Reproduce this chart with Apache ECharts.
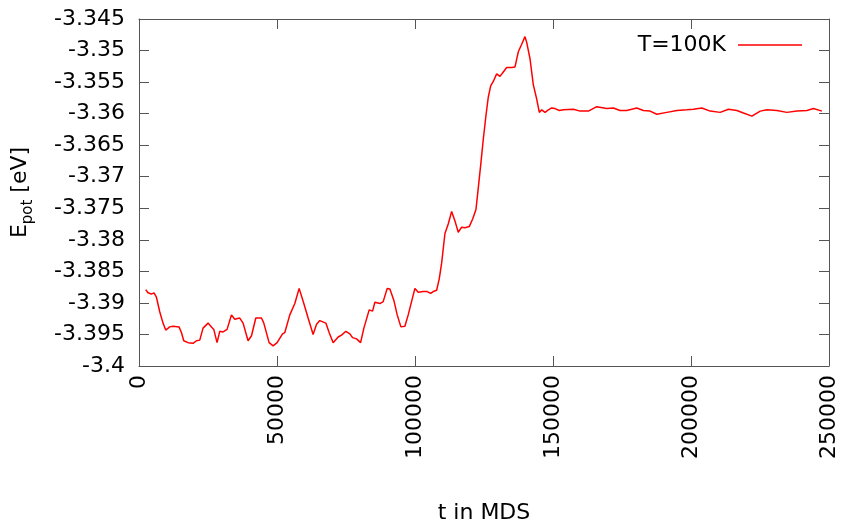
<!DOCTYPE html>
<html>
<head>
<meta charset="utf-8">
<script src="https://cdn.jsdelivr.net/npm/echarts@6/dist/echarts.min.js"></script>
<style>
  html, body { margin: 0; padding: 0; background: #fff; }
  #chart { width: 844px; height: 529px; }
</style>
</head>
<body>
<div id="chart"></div>
<script>
// values
const tSteps = [
  2430, 3260, 4500, 5440, 6310, 7510, 8700, 9680, 11130, 12330,
  14500, 15370, 16210, 17770, 19580, 20810, 22010, 23210, 25020, 26250,
  27090, 28280, 29260, 30460, 31910, 33500, 34700, 36510, 37710, 39520,
  40760, 42320, 44380, 45220, 47140, 48590, 50040, 52000, 52830, 54640,
  56460, 58020, 59720, 61280, 63090, 64320, 65520, 67700, 68890, 70340,
  72160, 73390, 74950, 76400, 77380, 78830, 80280, 81480, 83400, 84630,
  85460, 87280, 88470, 89930, 90900, 92350, 93550, 94890, 96340, 97540,
  99970, 101170, 102980, 104430, 105660, 106600, 107840, 108780, 109650, 110850,
  112040, 113280, 114470, 115670, 116900, 118100, 119660, 120890, 122090, 122920,
  123790, 124730, 125710, 126550, 127420, 128360, 129590, 130790, 131990, 133220,
  135030, 136230, 137430, 138660, 139850, 140470, 141670, 142860, 144100, 145040,
  145910, 147110, 148310, 149540, 150730, 152290, 153740, 157370, 159800, 162810,
  165850, 169480, 171870, 174300, 176730, 180360, 182750, 185180, 187610, 191240,
  194860, 198490, 200880, 203930, 206940, 210560, 213570, 216620, 219010, 222060,
  225070, 227500, 231120, 234750, 238380, 242000, 244390, 247440
]
const ePot = [
  -3.3879, -3.3884, -3.3886, -3.3884, -3.3891, -3.3914, -3.3932, -3.3943, -3.3938, -3.3937,
  -3.3938, -3.3947, -3.3960, -3.3963, -3.3964, -3.3960, -3.3959, -3.3940, -3.3932, -3.3938,
  -3.3942, -3.3963, -3.3945, -3.3946, -3.3942, -3.3919, -3.3926, -3.3924, -3.3932, -3.3960,
  -3.3952, -3.3924, -3.3924, -3.3932, -3.3963, -3.3968, -3.3963, -3.3949, -3.3947, -3.3919,
  -3.3901, -3.3877, -3.3901, -3.3924, -3.3950, -3.3934, -3.3928, -3.3932, -3.3947, -3.3963,
  -3.3954, -3.3951, -3.3945, -3.3949, -3.3955, -3.3957, -3.3963, -3.3940, -3.3911, -3.3913,
  -3.3899, -3.3901, -3.3898, -3.3877, -3.3878, -3.3896, -3.3919, -3.3938, -3.3937, -3.3919,
  -3.3877, -3.3883, -3.3882, -3.3882, -3.3885, -3.3882, -3.3880, -3.3862, -3.3837, -3.3790,
  -3.3775, -3.3755, -3.3770, -3.3788, -3.3780, -3.3781, -3.3779, -3.3767, -3.3752, -3.3718,
  -3.3682, -3.3641, -3.3603, -3.3574, -3.3556, -3.3549, -3.3537, -3.3541, -3.3534, -3.3527,
  -3.3527, -3.3526, -3.3502, -3.3490, -3.3478, -3.3487, -3.3513, -3.3554, -3.3577, -3.3598,
  -3.3594, -3.3598, -3.3594, -3.3591, -3.3592, -3.3595, -3.3594, -3.3593, -3.3596, -3.3596,
  -3.3589, -3.3592, -3.3591, -3.3595, -3.3595, -3.3591, -3.3595, -3.3596, -3.3601, -3.3598,
  -3.3595, -3.3594, -3.3593, -3.3591, -3.3596, -3.3598, -3.3593, -3.3595, -3.3599, -3.3604,
  -3.3596, -3.3594, -3.3595, -3.3598, -3.3596, -3.3595, -3.3592, -3.3596
]
const seriesName = 'T=100K'
const xTitle = 't in MDS'

const fontFamily = '"DejaVu Sans", Verdana, sans-serif'
const fontSize = 22
const textColor = '#000'
const frameColor = '#555'
const lineColor = '#ff0000'

const points = tSteps.map((t, i) => [t, ePot[i]])

const xBase = {
  type: 'value',
  min: 0,
  max: 250000,
  interval: 50000,
  splitLine: { show: false },
  axisLine: { show: true, onZero: false, lineStyle: { color: frameColor, width: 1 } },
  axisTick: { show: true, inside: true, length: 10, lineStyle: { color: frameColor } },
}
const yBase = {
  type: 'value',
  min: -3.4,
  max: -3.345,
  interval: 0.005,
  scale: true,
  splitLine: { show: false },
  axisLine: { show: true, onZero: false, lineStyle: { color: frameColor, width: 1 } },
  axisTick: { show: true, inside: true, length: 10, lineStyle: { color: frameColor } },
}

const chart = echarts.init(document.getElementById('chart'), null, { renderer: 'canvas' })

chart.setOption({
  backgroundColor: '#fff',
  animation: false,
  textStyle: { fontFamily },
  grid: { left: 139, top: 19, right: 15, bottom: 153 },
  legend: {
    right: 37,
    top: 29,
    align: 'right',
    itemWidth: 64,
    itemHeight: 1.5,
    textStyle: { fontSize: fontSize, color: textColor, fontFamily, padding: [0, 7, 0, 0] },
    data: [{ name: seriesName, icon: 'rect', itemStyle: { color: lineColor } }],
  },
  xAxis: [
    {
      ...xBase,
      position: 'bottom',
      name: xTitle,
      nameLocation: 'middle',
      nameGap: 136,
      nameTextStyle: { fontSize: fontSize, color: textColor, fontFamily },
      axisLabel: {
        rotate: 90,
        margin: 9,
        fontSize: fontSize,
        color: textColor,
        fontFamily,
        showMinLabel: true,
        showMaxLabel: true,
        formatter: (v) => String(v),
      },
    },
    { ...xBase, position: 'top', axisLabel: { show: false } },
  ],
  yAxis: [
    {
      ...yBase,
      position: 'left',
      name: '{e|E}{s|pot}{e| [eV]}',
      nameLocation: 'middle',
      nameGap: 108,
      nameRotate: 90,
      nameTextStyle: {
        color: textColor,
        rich: {
          e: { fontSize: fontSize, fontFamily, color: textColor, verticalAlign: 'bottom' },
          s: { fontSize: 15, fontFamily, color: textColor, verticalAlign: 'bottom', padding: [0, 0, -5, 0] },
        },
      },
      axisLabel: {
        margin: 14,
        fontSize: fontSize,
        color: textColor,
        fontFamily,
        formatter: (v) => String(+v.toFixed(3)),
      },
    },
    { ...yBase, position: 'right', axisLabel: { show: false } },
  ],
  series: [
    {
      name: seriesName,
      type: 'line',
      data: points,
      xAxisIndex: 0,
      yAxisIndex: 0,
      symbol: 'none',
      smooth: false,
      color: lineColor,
      lineStyle: { color: lineColor, width: 1.5 },
      emphasis: { disabled: true },
    },
  ],
})
</script>
</body>
</html>
